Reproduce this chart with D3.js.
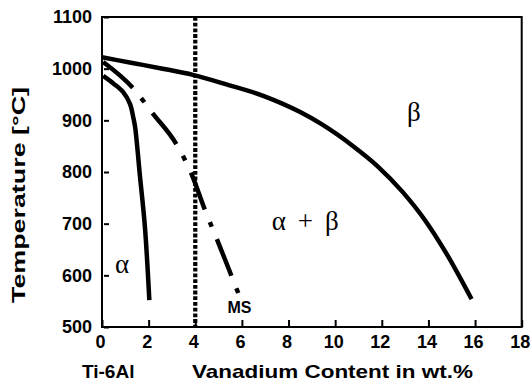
<!DOCTYPE html>
<html>
<head>
<meta charset="utf-8">
<script src="https://cdn.jsdelivr.net/npm/d3@7"></script>
<style>
  body { margin: 0; background: #fff; }
  svg { display: block; }
  .axis line { stroke: #000; stroke-width: 2; }
  .title { font-family: "Liberation Sans", Arial, sans-serif; font-weight: bold; font-size: 19px; fill: #000; }
  .phase { font-family: "Liberation Serif", "Times New Roman", serif; font-size: 27px; fill: #000; }
  .ms { font-family: "Liberation Sans", Arial, sans-serif; font-weight: bold; font-size: 16px; fill: #000; }
</style>
</head>
<body>
<script>
// Beta transus (solid, top)
const betaV = [0, 1.3, 2.6, 3.9, 5.3, 7.0, 8.5, 9.4, 10.8, 11.8, 12.9, 13.8, 14.8, 15.85];
const betaT = [1022, 1011, 1000, 988, 970, 946, 916, 893, 849, 812, 761, 710, 640, 554];

// Alpha boundary (solid, left)
const alphaV = [0.05, 0.5, 0.9, 1.2, 1.34, 1.42, 1.63, 1.84, 2.03];
const alphaT = [986, 971, 955, 932, 906, 887, 791, 694, 552];

// Martensite start (dash-dot)
const msV = [0.05, 1.34, 2.2, 3.2, 3.85, 4.42, 5.0, 5.57, 5.85];
const msT = [1013, 962, 912, 853, 795, 726, 662, 597, 565];

// Ti-6Al-4V composition marker
const markerV = 4;

const xTicks = [0, 2, 4, 6, 8, 10, 12, 14, 16, 18];
const yTicks = [500, 600, 700, 800, 900, 1000, 1100];

const labels = [
    { text: "\u03b1", v: 0.56, t: 604, cls: "phase", len: null },
    { text: "\u03b1 + \u03b2", v: 7.28, t: 688, cls: "phase", len: 67 },
    { text: "\u03b2", v: 13.08, t: 898, cls: "phase", len: null },
    { text: "MS", v: 5.38, t: 527, cls: "ms", len: null }
];

const width = 531, height = 382;
const margin = { left: 102, right: 9.3, top: 17, bottom: 55 };

const svg = d3.select("body").append("svg")
    .attr("width", width)
    .attr("height", height);

const x = d3.scaleLinear().domain([0, 18]).range([margin.left, width - margin.right]);
const y = d3.scaleLinear().domain([500, 1100]).range([height - margin.bottom, margin.top]);

// Axes with inward ticks
const xAxis = svg.append("g")
    .attr("class", "axis")
    .attr("transform", `translate(0,${y(500)})`)
    .call(d3.axisBottom(x).tickValues(xTicks).tickFormat(d3.format("d"))
        .tickSizeInner(-7).tickSizeOuter(0).tickPadding(8));

const yAxis = svg.append("g")
    .attr("class", "axis")
    .attr("transform", `translate(${x(0)},0)`)
    .call(d3.axisLeft(y).tickValues(yTicks).tickFormat(d3.format("d"))
        .tickSizeInner(-7).tickSizeOuter(0).tickPadding(10));

svg.selectAll(".axis .domain").remove();
svg.selectAll(".axis")
    .attr("font-family", "'Liberation Sans', Arial, sans-serif")
    .attr("font-size", 18)
    .attr("font-weight", "bold");
svg.selectAll(".axis text").attr("fill", "#000");
xAxis.selectAll("text").attr("dx", -2);
yAxis.selectAll(".tick line").attr("x1", 2).attr("x2", 7);

// Frame
svg.append("rect")
    .attr("x", x(0))
    .attr("y", y(1100))
    .attr("width", x(18) - x(0))
    .attr("height", y(500) - y(1100))
    .attr("fill", "none")
    .attr("stroke", "#000")
    .attr("stroke-width", 2);

// Vertical dotted line at 4 wt.% V
svg.append("line")
    .attr("x1", x(markerV)).attr("x2", x(markerV))
    .attr("y1", y(1100)).attr("y2", y(500))
    .attr("stroke", "#000")
    .attr("stroke-width", 4.2)
    .attr("stroke-dasharray", "3.8 1.9");

const line = d3.line()
    .x(d => x(d[0]))
    .y(d => y(d[1]))
    .curve(d3.curveMonotoneX);

svg.append("path")
    .attr("d", line(betaV.map((v, i) => [v, betaT[i]])))
    .attr("fill", "none")
    .attr("stroke", "#000")
    .attr("stroke-width", 4.5);

svg.append("path")
    .attr("d", line.curve(d3.curveCatmullRom.alpha(0.5))(alphaV.map((v, i) => [v, alphaT[i]])))
    .attr("fill", "none")
    .attr("stroke", "#000")
    .attr("stroke-width", 4.5);

line.curve(d3.curveMonotoneX);

const ms = svg.append("path")
    .attr("d", line(msV.map((v, i) => [v, msT[i]])))
    .attr("fill", "none")
    .attr("stroke", "#000")
    .attr("stroke-width", 4.5);

// fit dash-dot so the line ends on a dot (4 dashes, 4 dots)
const L = ms.node().getTotalLength();
const base = [38, 13, 5, 13];
const k = ((L + 13) / 4) / d3.sum(base);
ms.attr("stroke-dasharray", base.map(d => d * k).join(" "));

// Phase labels
svg.selectAll(".lbl")
    .data(labels)
    .join("text")
    .attr("class", d => d.cls)
    .attr("x", d => x(d.v))
    .attr("y", d => y(d.t))
    .attr("textLength", d => d.len)
    .text(d => d.text);

// Axis titles
svg.append("text")
    .attr("class", "title")
    .attr("x", 82)
    .attr("y", 378)
    .text("Ti-6Al");

svg.append("text")
    .attr("class", "title")
    .attr("x", 192)
    .attr("y", 378)
    .attr("textLength", 281)
    .attr("lengthAdjust", "spacingAndGlyphs")
    .text("Vanadium Content in wt.%");

svg.append("text")
    .attr("class", "title")
    .attr("transform", "translate(25,195) rotate(-90)")
    .attr("text-anchor", "middle")
    .attr("textLength", 216)
    .attr("lengthAdjust", "spacingAndGlyphs")
    .text("Temperature [\u00b0C]");
</script>
</body>
</html>
